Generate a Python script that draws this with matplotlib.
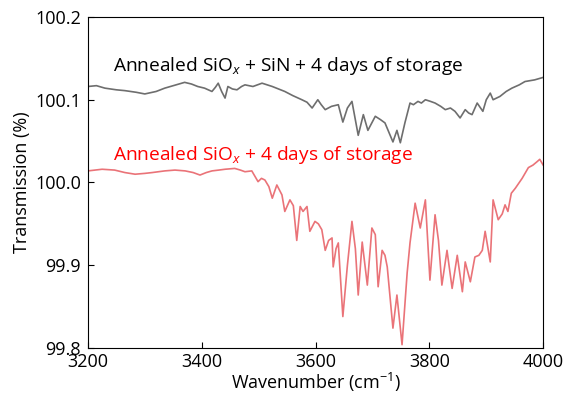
import numpy as np
import matplotlib
matplotlib.use("Agg")
import matplotlib.pyplot as plt

plt.rcParams['font.family'] = ['Open Sans', 'DejaVu Sans']
plt.rcParams['mathtext.fontset'] = 'custom'
plt.rcParams['mathtext.rm'] = 'Open Sans'
plt.rcParams['mathtext.it'] = 'Open Sans:italic'

# SiOx + SiN, stored 4 days (grey)
wn_sin = [3200, 3215, 3230, 3250, 3265, 3285, 3300, 3320, 3335, 3355, 3370, 3382,
          3393, 3405, 3418, 3424, 3429, 3435, 3441, 3446, 3454, 3462, 3470, 3476,
          3490, 3506, 3515, 3524, 3535, 3546, 3560, 3576, 3585, 3594, 3604, 3610,
          3617, 3628, 3640, 3648, 3656, 3664, 3675, 3684, 3692, 3705, 3714, 3722,
          3736, 3743, 3749, 3757, 3766, 3772, 3780, 3786, 3793, 3802, 3810, 3820,
          3828, 3837, 3845, 3854, 3863, 3869, 3875, 3884, 3894, 3900, 3907, 3912,
          3924, 3935, 3945, 3958, 3968, 3985, 4000]
t_sin = [100.116, 100.117, 100.114, 100.112, 100.111, 100.109, 100.107, 100.110,
         100.114, 100.118, 100.121, 100.119, 100.116, 100.114, 100.110, 100.115,
         100.120, 100.110, 100.102, 100.116, 100.113, 100.112, 100.116, 100.118,
         100.116, 100.120, 100.118, 100.116, 100.113, 100.110, 100.105, 100.100,
         100.097, 100.090, 100.100, 100.094, 100.088, 100.092, 100.094, 100.073,
         100.090, 100.098, 100.057, 100.082, 100.063, 100.080, 100.076, 100.072,
         100.049, 100.063, 100.048, 100.072, 100.096, 100.094, 100.098, 100.096,
         100.100, 100.098, 100.096, 100.092, 100.088, 100.090, 100.086, 100.078,
         100.088, 100.084, 100.082, 100.096, 100.086, 100.100, 100.108, 100.100,
         100.104, 100.110, 100.114, 100.118, 100.122, 100.124, 100.127]

# SiOx only, stored 4 days (red)
wn_siox = [3200, 3225, 3247, 3265, 3283, 3300, 3313, 3335, 3353, 3371, 3385, 3397,
           3408, 3418, 3430, 3441, 3458, 3468, 3476, 3488, 3499, 3505, 3511, 3518,
           3524, 3532, 3541, 3546, 3555, 3561, 3567, 3573, 3578, 3585, 3590, 3599,
           3605, 3611, 3617, 3623, 3629, 3631, 3636, 3640, 3648, 3656, 3664, 3670,
           3675, 3682, 3691, 3699, 3705, 3710, 3717, 3722, 3726, 3736, 3743, 3752,
           3761, 3766, 3775, 3784, 3793, 3801, 3810, 3816, 3822, 3831, 3840, 3849,
           3858, 3863, 3872, 3880, 3887, 3893, 3898, 3907, 3912, 3921, 3928, 3933,
           3938, 3944, 3951, 3963, 3974, 3982, 3989, 3994, 4000]
t_siox = [100.014, 100.016, 100.015, 100.012, 100.010, 100.011, 100.012, 100.014,
          100.015, 100.014, 100.012, 100.009, 100.012, 100.014, 100.015, 100.016,
          100.017, 100.015, 100.013, 100.014, 100.001, 100.005, 100.003, 99.995,
          99.981, 99.997, 99.985, 99.965, 99.979, 99.972, 99.930, 99.971, 99.965,
          99.971, 99.941, 99.953, 99.950, 99.943, 99.918, 99.930, 99.933, 99.898,
          99.920, 99.927, 99.838, 99.900, 99.953, 99.920, 99.864, 99.928, 99.876,
          99.945, 99.937, 99.874, 99.918, 99.912, 99.898, 99.824, 99.864, 99.804,
          99.891, 99.927, 99.975, 99.945, 99.979, 99.882, 99.961, 99.930, 99.876,
          99.918, 99.872, 99.912, 99.868, 99.904, 99.880, 99.910, 99.912, 99.918,
          99.941, 99.904, 99.979, 99.955, 99.962, 99.973, 99.965, 99.987, 99.993,
          100.005, 100.018, 100.021, 100.025, 100.028, 100.021]

fig = plt.figure(figsize=(5.67, 3.95), dpi=100)
ax = fig.add_axes([0.155, 0.119, 0.803, 0.838])

ax.plot(wn_sin, t_sin, color='#6e6e6e', lw=1.2)
ax.plot(wn_siox, t_siox, color='#ea7378', lw=1.2)

ax.text(3244, 100.141, 'Annealed SiO$_{\\mathit{x}}$ + SiN + 4 days of storage',
        fontsize=13.8, color='black', va='center')
ax.text(3244, 100.033, 'Annealed SiO$_{\\mathit{x}}$ + 4 days of storage',
        fontsize=13.8, color='#ff0000', va='center')

ax.set_xlim(3200, 4000)
ax.set_ylim(99.8, 100.2)
ax.set_xticks([3200, 3400, 3600, 3800, 4000])
ax.set_yticks([99.8, 99.9, 100.0, 100.1, 100.2])
ax.set_yticklabels(['99.8', '99.9', '100.0', '100.1', '100.2'])
ax.tick_params(direction='in', labelsize=13, length=4, top=False, right=False)
ax.tick_params(axis='y', pad=5)
ax.set_xlabel('Wavenumber (cm$^{-1}$)', fontsize=13, labelpad=0)
ax.set_ylabel('Transmission (%)', fontsize=13, labelpad=3)

fig.savefig('out.png', dpi=100)
